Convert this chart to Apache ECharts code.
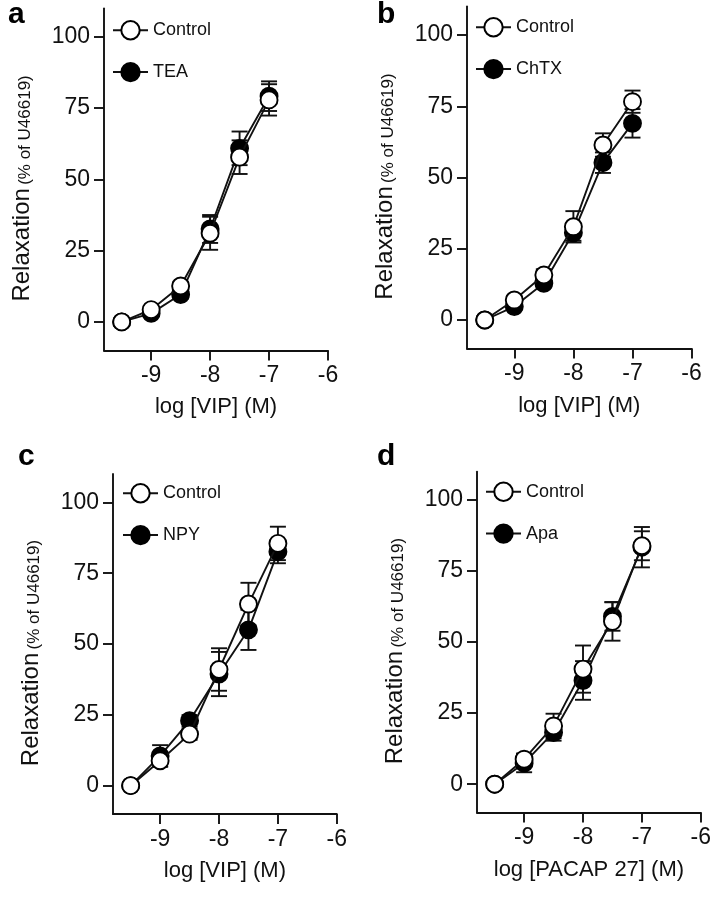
<!DOCTYPE html>
<html><head><meta charset="utf-8">
<script src="https://cdn.jsdelivr.net/npm/echarts@6/dist/echarts.min.js"></script>
<style>html,body{margin:0;padding:0;background:#fff}#c{width:720px;height:900px}</style>
</head><body><div id="c"></div>
<script>
// ---- data ----
const doses = [-9.5, -9, -8.5, -8, -7.5, -7];
const xTicks = [-9, -8, -7, -6];
const yTicks = [0, 25, 50, 75, 100];
const panelLetters = ['a', 'b', 'c', 'd'];
const xNames = ['log [VIP] (M)', 'log [VIP] (M)', 'log [VIP] (M)', 'log [PACAP 27] (M)'];
const controlName = 'Control';
const treatNames = ['TEA', 'ChTX', 'NPY', 'Apa'];

const aControl = [0, 4.3, 12.6, 31.1, 57.8, 77.9];
const aControlErr = [0, 1, 1.5, 5.8, 5.9, 5.5];
const aTreat = [0, 3, 9.6, 32.6, 60.9, 79.2];
const aTreatErr = [0, 1, 1.5, 4.9, 5.9, 5.2];

const bControl = [0, 7, 15.8, 32.7, 61.4, 76.6];
const bControlErr = [0, 1.5, 2, 5.5, 4.1, 3.9];
const bTreat = [0, 4.7, 12.9, 30.6, 55.2, 69];
const bTreatErr = [0, 1, 1.5, 2.8, 3.6, 5];

const cControl = [0, 8.8, 18.2, 41, 64.1, 85.5];
const cControlErr = [0, 2, 2, 7.5, 7.5, 5.9];
const cTreat = [0, 10.5, 22.9, 39.4, 55, 82.6];
const cTreatErr = [0, 3.8, 2, 7.8, 7.1, 4.1];

const dControl = [0, 8.8, 20.5, 40.5, 57.3, 83.9];
const dControlErr = [0, 2, 4.3, 8.3, 6.8, 5.1];
const dTreat = [0, 7.4, 18.2, 36.5, 59, 83.4];
const dTreatErr = [0, 3.2, 2.9, 6.8, 5, 7.1];

const controls = [aControl, bControl, cControl, dControl];
const controlErrs = [aControlErr, bControlErr, cControlErr, dControlErr];
const treats = [aTreat, bTreat, cTreat, dTreat];
const treatErrs = [aTreatErr, bTreatErr, cTreatErr, dTreatErr];

// ---- layout ----
const FONT = '"Liberation Sans", Arial, Helvetica, sans-serif';
const grids = [
  {left: 104, top: 8.4, width: 224, height: 342},
  {left: 467, top: 6.5, width: 224.6, height: 342},
  {left: 113, top: 474, width: 223.8, height: 340},
  {left: 477, top: 471.6, width: 223.8, height: 341}
];
const legendPos = [
  {left: 112, top: 20},
  {left: 475, top: 17},
  {left: 122, top: 483},
  {left: 485, top: 481.5}
];
const letterPos = [[8, 30], [377, 30], [18, 472], [377, 472]];

const black = '#111';
const LW = 1.9;

function errSeries(idx, ys, errs, z) {
  return {
    type: 'custom', xAxisIndex: idx, yAxisIndex: idx, z: z, silent: true,
    encode: {x: 0, y: 1},
    data: doses.map((d, i) => [d, ys[i], errs[i]]),
    renderItem: function (params, api) {
      const x = api.value(0), y = api.value(1), e = api.value(2);
      if (!e) return null;
      const t = api.coord([x, y + e]);
      const b = api.coord([x, y - e]);
      const hw = 8;
      const st = {stroke: black, lineWidth: LW};
      return {type: 'group', children: [
        {type: 'line', shape: {x1: t[0], y1: t[1], x2: b[0], y2: b[1]}, style: st},
        {type: 'line', shape: {x1: t[0] - hw, y1: t[1], x2: t[0] + hw, y2: t[1]}, style: st},
        {type: 'line', shape: {x1: b[0] - hw, y1: b[1], x2: b[0] + hw, y2: b[1]}, style: st}
      ]};
    }
  };
}

const option = {
  animation: false,
  backgroundColor: '#fff',
  textStyle: {fontFamily: FONT},
  grid: grids,
  xAxis: grids.map((g, i) => ({
    type: 'value', gridIndex: i, min: -9.8, max: -6,
    name: xNames[i], nameLocation: 'middle', nameGap: 46,
    nameTextStyle: {fontSize: 22, color: black, fontFamily: FONT},
    axisLine: {show: true, onZero: false, lineStyle: {color: black, width: LW}},
    axisTick: {show: true, inside: false, length: 10, customValues: xTicks, lineStyle: {color: black, width: LW}},
    axisLabel: {show: true, customValues: xTicks, fontSize: 23, color: black, margin: 14, fontFamily: FONT},
    splitLine: {show: false}
  })),
  yAxis: grids.map((g, i) => ({
    type: 'value', gridIndex: i, min: -10, max: 110,
    name: '{a|Relaxation} {b|(% of U46619)}', nameLocation: 'middle', nameGap: 70, nameRotate: 90,
    nameTextStyle: {color: black, fontFamily: FONT, padding: [0, 18, 0, 0],
      rich: {
        a: {fontSize: 24, lineHeight: 26, verticalAlign: 'bottom', color: black, fontFamily: FONT},
        b: {fontSize: 17, lineHeight: 26, verticalAlign: 'bottom', color: black, fontFamily: FONT}
      }},
    axisLine: {show: true, onZero: false, lineStyle: {color: black, width: LW}},
    axisTick: {show: true, inside: false, length: 10, customValues: yTicks, lineStyle: {color: black, width: LW}},
    axisLabel: {show: true, customValues: yTicks, fontSize: 23, color: black, margin: 14, fontFamily: FONT},
    splitLine: {show: false}
  })),
  legend: grids.map((g, i) => ({
    data: [controlName, treatNames[i]], orient: 'vertical',
    left: legendPos[i].left, top: legendPos[i].top, padding: 0,
    itemWidth: 35, itemHeight: 23, itemGap: 21.5,
    selectedMode: false,
    textStyle: {fontSize: 18, color: black, fontFamily: FONT}
  })),
  graphic: letterPos.map((p, i) => ({
    type: 'text', x: p[0], y: p[1], silent: true,
    style: {text: panelLetters[i], font: 'bold 30px ' + FONT, fill: '#000', verticalAlign: 'bottom'}
  })),
  series: []
};

for (let i = 0; i < 4; i++) {
  option.series.push(errSeries(i, treats[i], treatErrs[i], 1));
  option.series.push(errSeries(i, controls[i], controlErrs[i], 1));
  option.series.push({
    type: 'line', name: treatNames[i], xAxisIndex: i, yAxisIndex: i, z: 2,
    data: doses.map((d, k) => [d, treats[i][k]]),
    symbol: 'circle', symbolSize: 17,
    itemStyle: {color: '#000', borderColor: '#000', borderWidth: LW},
    lineStyle: {color: black, width: LW}
  });
  option.series.push({
    type: 'line', name: controlName, xAxisIndex: i, yAxisIndex: i, z: 3,
    data: doses.map((d, k) => [d, controls[i][k]]),
    symbol: 'circle', symbolSize: 17,
    itemStyle: {color: '#fff', borderColor: '#000', borderWidth: LW},
    lineStyle: {color: black, width: LW}
  });
}

const chart = echarts.init(document.getElementById('c'), null, {renderer: 'canvas'});
chart.setOption(option);
</script>
</body></html>
